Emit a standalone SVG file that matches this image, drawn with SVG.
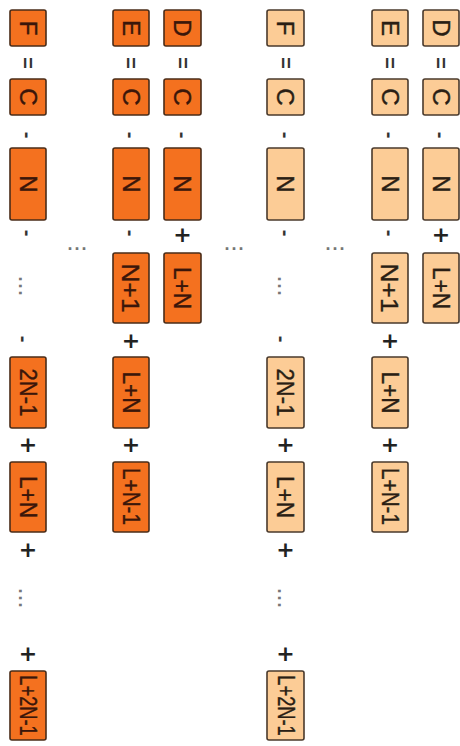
<svg xmlns="http://www.w3.org/2000/svg" width="460" height="746" viewBox="0 0 460 746">
<style>
.d{fill:#F4711F;stroke:#4a2c18;stroke-width:1.6}
.l{fill:#FCCC96;stroke:#4a3a2c;stroke-width:1.6}
.t{font-family:"Liberation Sans",Arial,sans-serif;font-size:24px;text-anchor:middle;dominant-baseline:central;stroke-width:0.4}
.td{fill:#3a160a;stroke:#3a160a}
.tl{fill:#2a1e14;stroke:#2a1e14}
.b{font-family:"Liberation Sans",Arial,sans-serif;font-size:20px;font-weight:bold;text-anchor:middle;dominant-baseline:central;fill:#333}
.p{font-family:"DejaVu Sans",sans-serif;font-size:22px;font-weight:bold;text-anchor:middle;dominant-baseline:central;fill:#222}
.dots{font-family:"Liberation Sans",Arial,sans-serif;font-size:18px;font-weight:bold;letter-spacing:2px;text-anchor:middle;fill:#777}
</style>
<!-- Left dark set -->
<g id="L-F"><rect class="d" x="10" y="10" width="36" height="36" rx="2"/><text class="t td" transform="translate(28,28) rotate(90)">F</text></g>
<g id="L-F-C"><rect class="d" x="10" y="79" width="36" height="36" rx="2"/><text class="t td" transform="translate(28,97) rotate(90)">C</text></g>
<g id="L-F-N"><rect class="d" x="10" y="148" width="36" height="72" rx="2"/><text class="t td" transform="translate(28,184) rotate(90)">N</text></g>
<g id="L-F-2N-1"><rect class="d" x="10" y="357" width="36" height="71" rx="2"/><text class="t td" transform="translate(28,392.5) rotate(90) scale(0.92,1)">2N-1</text></g>
<g id="L-F-LN"><rect class="d" x="10" y="462" width="36" height="70" rx="2"/><text class="t td" transform="translate(28,497) rotate(90) scale(0.94,1)">L+N</text></g>
<g id="L-F-L2N-1"><rect class="d" x="10" y="671" width="36" height="69" rx="2"/><text class="t td" transform="translate(28,705.5) rotate(90) scale(0.76,1)">L+2N-1</text></g>

<g id="L-E"><rect class="d" x="113" y="10" width="36" height="36" rx="2"/><text class="t td" transform="translate(131,28) rotate(90)">E</text></g>
<g id="L-E-C"><rect class="d" x="113" y="79" width="36" height="36" rx="2"/><text class="t td" transform="translate(131,97) rotate(90)">C</text></g>
<g id="L-E-N"><rect class="d" x="113" y="148" width="36" height="72" rx="2"/><text class="t td" transform="translate(131,184) rotate(90)">N</text></g>
<g id="L-E-N1"><rect class="d" x="113" y="253" width="36" height="70" rx="2"/><text class="t td" transform="translate(131,288) rotate(90) scale(1.1,1)">N+1</text></g>
<g id="L-E-LN"><rect class="d" x="113" y="357" width="36" height="71" rx="2"/><text class="t td" transform="translate(131,392.5) rotate(90) scale(0.94,1)">L+N</text></g>
<g id="L-E-LN-1"><rect class="d" x="113" y="462" width="36" height="70" rx="2"/><text class="t td" transform="translate(131,496.5) rotate(90) scale(0.86,1)">L+N-1</text></g>

<g id="L-D"><rect class="d" x="164" y="10" width="37" height="36" rx="2"/><text class="t td" transform="translate(182.5,28) rotate(90)">D</text></g>
<g id="L-D-C"><rect class="d" x="164" y="79" width="37" height="36" rx="2"/><text class="t td" transform="translate(182.5,97) rotate(90)">C</text></g>
<g id="L-D-N"><rect class="d" x="164" y="148" width="37" height="72" rx="2"/><text class="t td" transform="translate(182.5,184) rotate(90)">N</text></g>
<g id="L-D-LN"><rect class="d" x="164" y="253" width="37" height="70" rx="2"/><text class="t td" transform="translate(182.5,288) rotate(90) scale(0.94,1)">L+N</text></g>

<!-- Right light set -->
<g id="R-F"><rect class="l" x="267" y="10" width="37" height="36" rx="2"/><text class="t tl" transform="translate(285.5,28) rotate(90)">F</text></g>
<g id="R-F-C"><rect class="l" x="267" y="79" width="37" height="36" rx="2"/><text class="t tl" transform="translate(285.5,97) rotate(90)">C</text></g>
<g id="R-F-N"><rect class="l" x="267" y="148" width="37" height="72" rx="2"/><text class="t tl" transform="translate(285.5,184) rotate(90)">N</text></g>
<g id="R-F-2N-1"><rect class="l" x="267" y="357" width="37" height="71" rx="2"/><text class="t tl" transform="translate(285.5,392.5) rotate(90) scale(0.92,1)">2N-1</text></g>
<g id="R-F-LN"><rect class="l" x="267" y="462" width="37" height="70" rx="2"/><text class="t tl" transform="translate(285.5,497) rotate(90) scale(0.94,1)">L+N</text></g>
<g id="R-F-L2N-1"><rect class="l" x="267" y="671" width="37" height="69" rx="2"/><text class="t tl" transform="translate(285.5,705.5) rotate(90) scale(0.76,1)">L+2N-1</text></g>

<g id="R-E"><rect class="l" x="372" y="10" width="36" height="36" rx="2"/><text class="t tl" transform="translate(390,28) rotate(90)">E</text></g>
<g id="R-E-C"><rect class="l" x="372" y="79" width="36" height="36" rx="2"/><text class="t tl" transform="translate(390,97) rotate(90)">C</text></g>
<g id="R-E-N"><rect class="l" x="372" y="148" width="36" height="72" rx="2"/><text class="t tl" transform="translate(390,184) rotate(90)">N</text></g>
<g id="R-E-N1"><rect class="l" x="372" y="253" width="36" height="70" rx="2"/><text class="t tl" transform="translate(390,288) rotate(90) scale(1.1,1)">N+1</text></g>
<g id="R-E-LN"><rect class="l" x="372" y="357" width="36" height="71" rx="2"/><text class="t tl" transform="translate(390,392.5) rotate(90) scale(0.94,1)">L+N</text></g>
<g id="R-E-LN-1"><rect class="l" x="372" y="462" width="36" height="70" rx="2"/><text class="t tl" transform="translate(390,496.5) rotate(90) scale(0.86,1)">L+N-1</text></g>

<g id="R-D"><rect class="l" x="423" y="10" width="36" height="36" rx="2"/><text class="t tl" transform="translate(441,28) rotate(90)">D</text></g>
<g id="R-D-C"><rect class="l" x="423" y="79" width="36" height="36" rx="2"/><text class="t tl" transform="translate(441,97) rotate(90)">C</text></g>
<g id="R-D-N"><rect class="l" x="423" y="148" width="36" height="72" rx="2"/><text class="t tl" transform="translate(441,184) rotate(90)">N</text></g>
<g id="R-D-LN"><rect class="l" x="423" y="253" width="36" height="70" rx="2"/><text class="t tl" transform="translate(441,288) rotate(90) scale(0.94,1)">L+N</text></g>

<!-- Bonds / connectors -->
<g id="connectors">
<text class="b" transform="translate(28,63) rotate(90)">=</text>
<text class="b" transform="translate(131,63) rotate(90)">=</text>
<text class="b" transform="translate(182.5,63) rotate(90)">=</text>
<text class="b" transform="translate(285.5,63) rotate(90)">=</text>
<text class="b" transform="translate(390,63) rotate(90)">=</text>
<text class="b" transform="translate(441,63) rotate(90)">=</text>
<text class="b" transform="translate(28,135) rotate(90)">-</text>
<text class="b" transform="translate(131,135) rotate(90)">-</text>
<text class="b" transform="translate(182.5,135) rotate(90)">-</text>
<text class="b" transform="translate(285.5,135) rotate(90)">-</text>
<text class="b" transform="translate(390,135) rotate(90)">-</text>
<text class="b" transform="translate(441,135) rotate(90)">-</text>
<text class="b" transform="translate(28,233) rotate(90)">-</text>
<text class="b" transform="translate(131,233) rotate(90)">-</text>
<text class="p" x="182.5" y="234">+</text>
<text class="b" transform="translate(285.5,233) rotate(90)">-</text>
<text class="b" transform="translate(390,233) rotate(90)">-</text>
<text class="p" x="441" y="234">+</text>
<text class="b" transform="translate(24,339) rotate(90)">-</text>
<text class="p" x="131" y="340">+</text>
<text class="b" transform="translate(282,339) rotate(90)">-</text>
<text class="p" x="390" y="340">+</text>
<text class="p" x="28" y="444">+</text>
<text class="p" x="131" y="444">+</text>
<text class="p" x="285.5" y="444">+</text>
<text class="p" x="390" y="444">+</text>
<text class="p" x="28" y="549">+</text>
<text class="p" x="285.5" y="549">+</text>
<text class="p" x="28" y="653">+</text>
<text class="p" x="285.5" y="653">+</text>
<text class="dots" transform="translate(19,287) rotate(90)">...</text>
<text class="dots" transform="translate(278,287) rotate(90)">...</text>
<text class="dots" transform="translate(19,599) rotate(90)">...</text>
<text class="dots" transform="translate(278,599) rotate(90)">...</text>
<text class="dots" x="78" y="250">...</text>
<text class="dots" x="235" y="250">...</text>
<text class="dots" x="336" y="250">...</text>
</g>
</svg>
